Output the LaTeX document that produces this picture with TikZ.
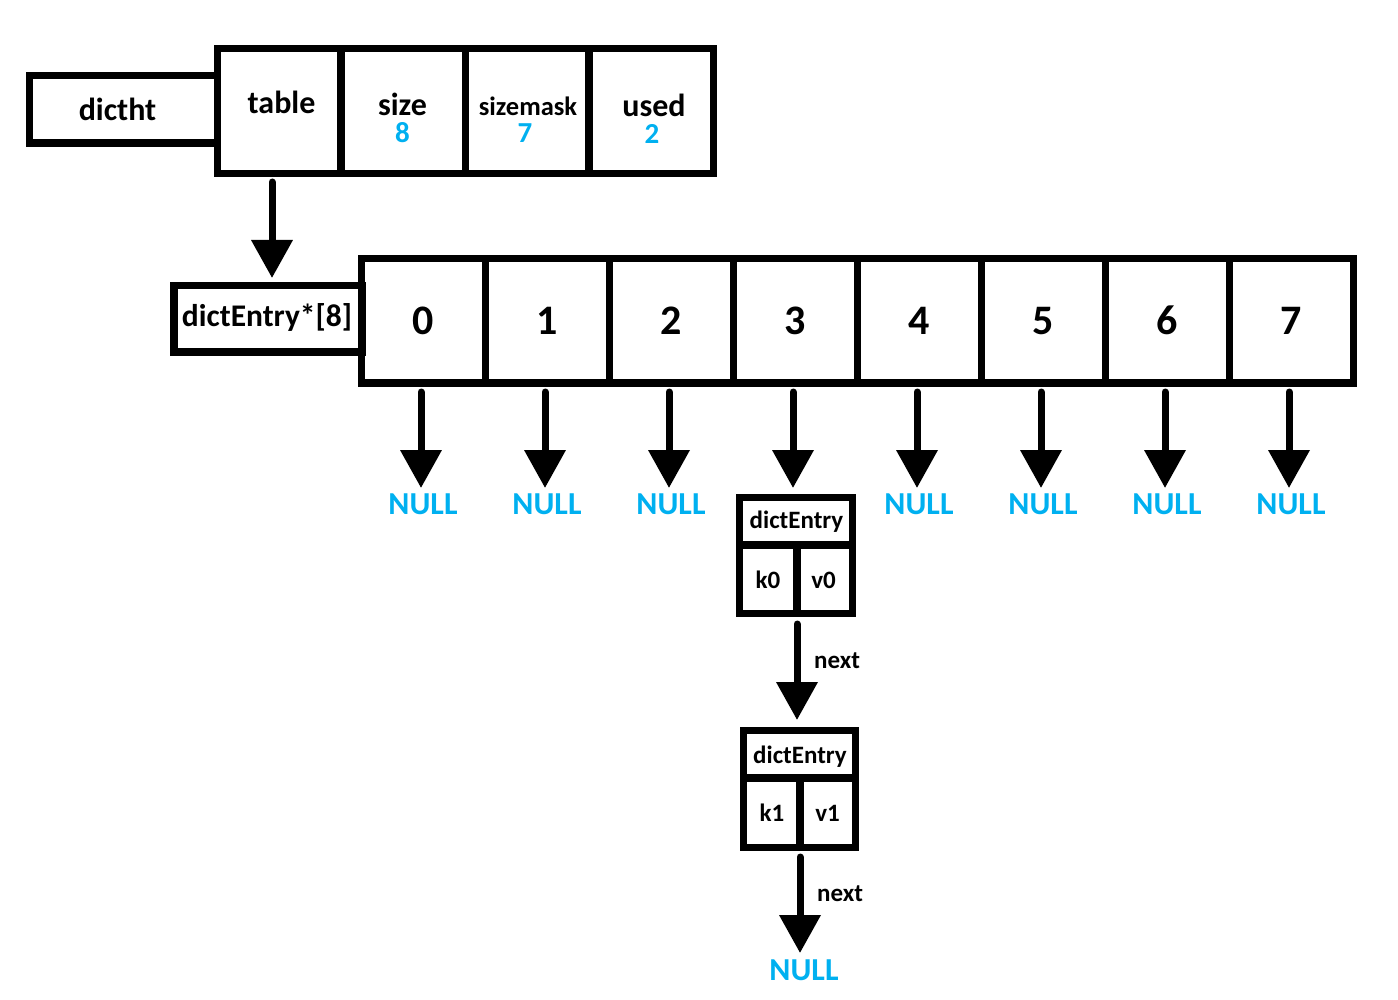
\documentclass[tikz,border=0pt]{standalone}
\usepackage{fontspec}
\setmainfont{Carlito}
\usetikzlibrary{arrows.meta}
\definecolor{nullblue}{RGB}{0,176,240}
\begin{document}
\begin{tikzpicture}[x=1pt,y=-1pt,
 box/.style={draw=black, line width=7.5pt, inner sep=0pt, outer sep=0pt},
 lbl/.style={inner sep=0pt, anchor=base, text depth=0pt, font=\fontsize{32}{36}\selectfont\bfseries},
 val/.style={inner sep=0pt, anchor=base, text=nullblue, text height=18pt, text depth=0pt, font=\fontsize{29}{32}\selectfont\bfseries},
 small/.style={inner sep=0pt, anchor=base, font=\fontsize{25}{28}\selectfont\bfseries},
 nul/.style={inner sep=0pt, anchor=north, text=nullblue, text height=20pt, text depth=0pt, font=\fontsize{32}{36}\selectfont\bfseries},
 arr/.style={line width=7pt, line cap=round, -{Triangle[width=40pt,length=38pt]}},
 cellbox/.style={box, minimum width=124pt, minimum height=124.5pt, font=\fontsize{42}{46}\selectfont\bfseries}
]
\useasboundingbox (0,0) rectangle (1398,1000);

% dictht structure
\node[box, minimum width=188pt, minimum height=67.5pt] (dictht) at (123.5,109.25) {};
\node[box, minimum width=123.5pt, minimum height=125pt] (table) at (279.25,111) {};
\node[box, minimum width=124.5pt, minimum height=125pt] (size) at (403.25,111) {};
\node[box, minimum width=123.5pt, minimum height=125pt] (mask) at (527.25,111) {};
\node[box, minimum width=124.5pt, minimum height=125pt] (used) at (651.25,111) {};

\node[lbl] (tdictht) at (117.5,121) {dictht};
\node[lbl] (ttable) at (281.5,114) {table};
\node[lbl] (tsize) at (402.5,116) {size};
\node[val] (vsize) at (402.5,143) {8};
\node[inner sep=0pt, anchor=base, text depth=0pt, font=\fontsize{26.5}{30}\selectfont\bfseries] (tmask) at (528,116) {sizemask};
\node[val] (vmask) at (525,143) {7};
\node[lbl] (tused) at (654,117) {used};
\node[val] (vused) at (652,144) {2};

% dictEntry*[8] array
\node[box, minimum width=188pt, minimum height=66.5pt] (de8) at (268,318.75) {};
\node[inner sep=0pt, anchor=base, font=\fontsize{31.5}{34}\selectfont\bfseries] (tde8) at (267,327) {dictEntry*[8]};
\foreach \i in {0,...,7}
  \node[cellbox] (a\i) at ({423.5+124*\i},320.75) {\i};

\draw[arr] ([xshift=-7.25pt,yshift=-8.5pt]table.south) -- ([xshift=4pt,yshift=7.5pt]de8.north);

% NULL targets
\foreach \i in {0,1,2,4,5,6,7}{
  \node[nul] (n\i) at ({423+124*\i},494) {NULL};
  \draw[arr] ([xshift=-2.5pt,yshift=-9pt]a\i.south) -- ([xshift=-2pt,yshift=6pt]n\i.north);
}

% first dictEntry
\node[box, minimum width=113pt, minimum height=47.5pt] (e1h) at (796,521.25) {};
\node[box, minimum width=57.5pt, minimum height=68.5pt] (k0) at (768.25,579.25) {};
\node[box, minimum width=55.5pt, minimum height=68.5pt] (v0) at (824.75,579.25) {};
\node[small] (te1) at (796.5,528) {dictEntry};
\node[small] (tk0) at (768,588) {k0};
\node[small] (tv0) at (823.5,588) {v0};
\draw[arr] ([xshift=-2.5pt,yshift=-9pt]a3.south) -- ([xshift=-3pt,yshift=9.5pt]e1h.north);

% second dictEntry
\node[box, minimum width=112pt, minimum height=47.5pt] (e2h) at (799.5,754.25) {};
\node[box, minimum width=56.5pt, minimum height=69.5pt] (k1) at (771.75,812.75) {};
\node[box, minimum width=55.5pt, minimum height=69.5pt] (v1) at (827.75,812.75) {};
\node[small] (te2) at (800,763) {dictEntry};
\node[small] (tk1) at (772,821) {k1};
\node[small] (tv1) at (827.5,821) {v1};

\draw[arr] ([yshift=-10.5pt]k0.south east) -- ([xshift=-2.5pt,yshift=10.5pt]e2h.north);
\node[small, anchor=base west] (next1) at (814,668) {next};

\node[nul] (nF) at (804,960) {NULL};
\draw[arr] ([yshift=-9.5pt]k1.south east) -- ([xshift=-4pt,yshift=7pt]nF.north);
\node[small, anchor=base west] (next2) at (817,901) {next};
\end{tikzpicture}
\end{document}
